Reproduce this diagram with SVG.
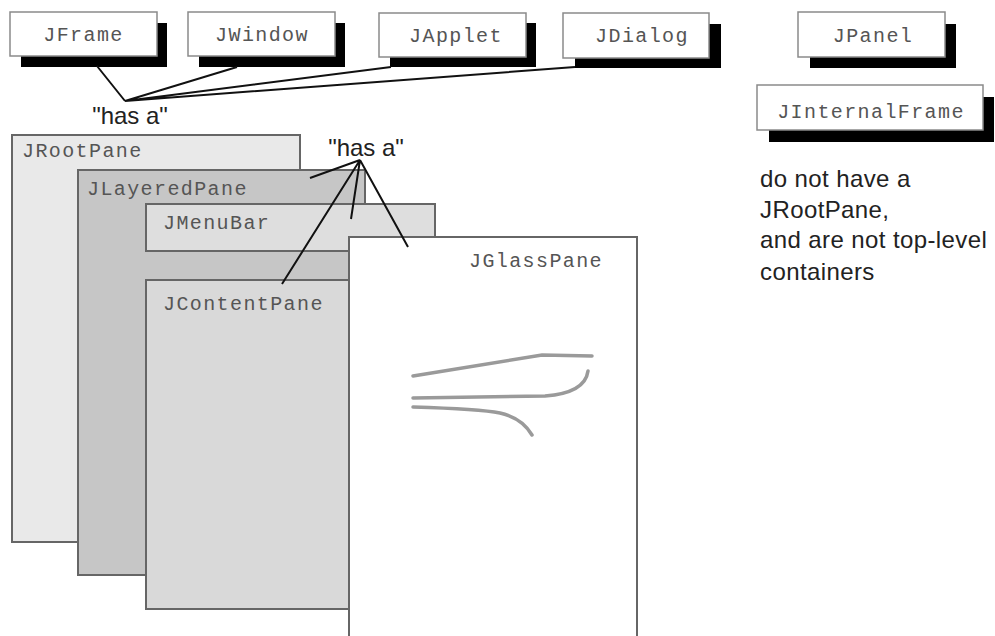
<svg xmlns="http://www.w3.org/2000/svg" width="995" height="636" viewBox="0 0 995 636">
<style>
.box{fill:#fff;stroke:#8a8a8a;stroke-width:1.5}
.shadow{fill:#000}
.mono{font-family:"Liberation Mono","DejaVu Sans Mono",monospace;font-size:20px;fill:#555;letter-spacing:1.4px}
.pane{stroke:#666;stroke-width:2}
.note{font-family:"Liberation Sans",Arial,sans-serif;font-size:24px;fill:#222}
.conn{stroke:#111;stroke-width:2;fill:none}
.squig{stroke:#9a9a9a;stroke-width:3.5;fill:none;stroke-linecap:round}
</style>
<rect width="995" height="636" fill="#fff"/>
<g id="JRootPane">
<rect class="pane" x="12" y="135" width="288" height="407" fill="#e9e9e9"/>
<text class="mono" x="22" y="157">JRootPane</text>
</g>
<g id="JLayeredPane">
<rect class="pane" x="78" y="170" width="287" height="405" fill="#c6c6c6"/>
<text class="mono" x="87" y="195">JLayeredPane</text>
</g>
<g id="JMenuBar">
<rect class="pane" x="146" y="204" width="289" height="47" fill="#dedede"/>
<text class="mono" x="163" y="229">JMenuBar</text>
</g>
<g id="JContentPane">
<rect class="pane" x="146" y="280" width="203" height="329" fill="#d9d9d9"/>
<text class="mono" x="163" y="310">JContentPane</text>
</g>
<g id="JGlassPane">
<rect class="pane" x="349" y="237" width="288" height="400" fill="#fff"/>
<text class="mono" x="469" y="267">JGlassPane</text>
<path class="squig" d="M413,376 L542,355 L592,356"/>
<path class="squig" d="M413,398 L545,396 Q585,393 588,371"/>
<path class="squig" d="M413,407 Q480,409 500,413 Q522,418 532,435"/>
</g>
<g id="JFrame">
<rect class="shadow" x="21" y="23" width="146" height="44"/>
<rect class="box" x="10" y="12" width="147" height="44"/>
<text class="mono" x="83.5" y="41" text-anchor="middle">JFrame</text>
</g>
<g id="JWindow">
<rect class="shadow" x="199" y="23" width="146" height="44"/>
<rect class="box" x="188" y="12" width="147" height="44"/>
<text class="mono" x="262" y="41" text-anchor="middle">JWindow</text>
</g>
<g id="JApplet">
<rect class="shadow" x="390" y="23" width="146" height="44"/>
<rect class="box" x="379" y="13" width="147" height="44"/>
<text class="mono" x="456" y="42" text-anchor="middle">JApplet</text>
</g>
<g id="JDialog">
<rect class="shadow" x="575" y="24" width="146" height="44"/>
<rect class="box" x="563" y="13" width="146" height="45"/>
<text class="mono" x="642" y="42" text-anchor="middle">JDialog</text>
</g>
<g id="JPanel">
<rect class="shadow" x="810" y="24" width="146" height="44"/>
<rect class="box" x="798" y="12" width="147" height="45"/>
<text class="mono" x="873" y="42" text-anchor="middle">JPanel</text>
</g>
<g id="JInternalFrame">
<rect class="shadow" x="769" y="97" width="225" height="45"/>
<rect class="box" x="757" y="85" width="226" height="45"/>
<text class="mono" x="871" y="118" text-anchor="middle">JInternalFrame</text>
</g>
<g id="connectors">
<path class="conn" d="M97,66 L125,101 M237,67 L125,101 M391,67 L125,101 M575,67 L125,101"/>
<path class="conn" d="M360,160 L310,178 M360,160 L351,219 M360,160 L282,284 M360,160 L408,247"/>
</g>
<g id="labels">
<text class="note" x="130" y="124" text-anchor="middle">"has a"</text>
<text class="note" x="366" y="156" text-anchor="middle">"has a"</text>
<text class="note" x="760" y="187" letter-spacing="0.4">do not have a</text>
<text class="note" x="760" y="218" letter-spacing="0.4">JRootPane,</text>
<text class="note" x="760" y="248" letter-spacing="0.4">and are not top-level</text>
<text class="note" x="760" y="280" letter-spacing="0.4">containers</text>
</g>
</svg>
